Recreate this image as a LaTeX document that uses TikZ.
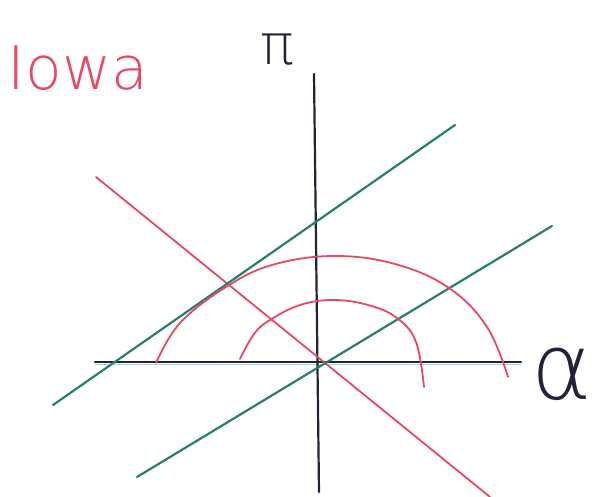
\documentclass[tikz,border=0pt]{standalone}
\usepackage{fontspec}
\setmainfont{DejaVu Sans}
\newfontfamily\handfont{DejaVu Sans ExtraLight}
\definecolor{penred}{RGB}{232,72,96}
\definecolor{pengreen}{RGB}{38,128,108}
\definecolor{penink}{RGB}{36,34,58}
\definecolor{pencyan}{RGB}{150,220,235}
\tikzset{
  axisline/.style={penink,line width=2.2pt,line cap=round},
  redline/.style={penred,line width=1.8pt,line cap=round},
  greenline/.style={pengreen,line width=2.2pt,line cap=round},
  redarc/.style={penred,line width=1.8pt,line cap=round},
  labeltext/.style={inner sep=0pt,anchor=center}
}
\begin{document}
\begin{tikzpicture}[x=1pt,y=-1pt]
\useasboundingbox (0,0) rectangle (594,497);
% coordinates
\coordinate (vtop) at (314,74);
\coordinate (vbot) at (319,492);
\coordinate (hleft) at (95,362);
\coordinate (hright) at (521,362);
\coordinate (rstart) at (96,177);
\coordinate (rend) at (490,497);
\coordinate (g1a) at (53,405);
\coordinate (g1b) at (455,125);
\coordinate (g2a) at (137,477);
\coordinate (g2b) at (552,226);
% faint cyan shadow on horizontal axis
\draw[pencyan,line width=1pt] ([yshift=-2]hleft) -- ([yshift=-2]hright);
% axes
\draw[axisline] (vtop) -- (vbot);
\draw[axisline] (hleft) -- (hright);
% red line
\draw[redline] (rstart) -- (rend);
% green lines
\draw[greenline] (g1a) -- (g1b);
\draw[greenline] (g2a) -- (g2b);
% arcs
\draw[redarc] plot[smooth,tension=0.65] coordinates {(156,363) (180,323) (226,287) (272,265) (333,256) (395,264) (449,288) (487,327) (508,377)};
\draw[redarc] plot[smooth,tension=0.65] coordinates {(240,359) (254,334) (270,320) (300,305) (333,300) (368,305) (397,318) (416,342) (424,387)};
% labels
\node[labeltext,penred,font=\handfont\fontsize{60}{60}\selectfont] (iowa) at (78,68) {Iowa};
\node[labeltext,penink,font=\handfont\fontsize{56}{56}\selectfont] (pi) at (277,50) {π};
\node[labeltext,penink,font=\handfont\fontsize{92}{92}\selectfont] (alpha) at (562,374) {α};
\end{tikzpicture}
\end{document}
